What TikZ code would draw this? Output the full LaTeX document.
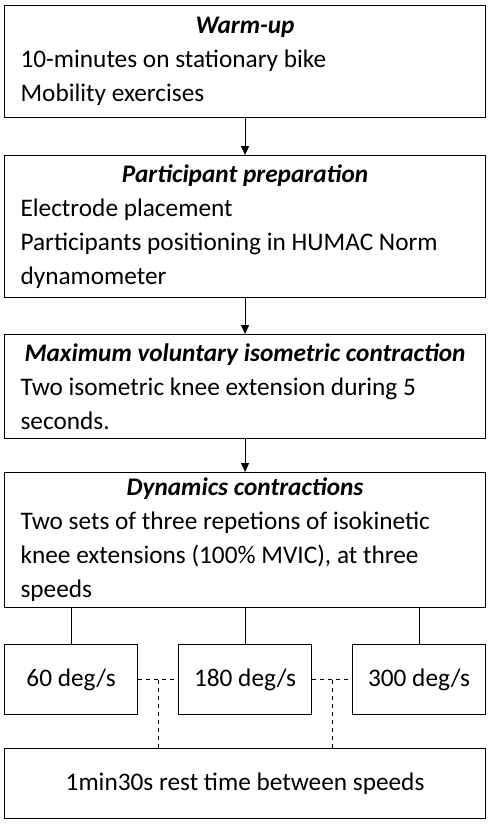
\documentclass[tikz,border=0pt]{standalone}
\usepackage{fontspec}
\setmainfont{Carlito}
\usetikzlibrary{arrows.meta,calc}
\newcommand\boxtitle[1]{{\bfseries\itshape #1}}
\begin{document}
\begin{tikzpicture}[x=1pt,y=-1pt,
  every node/.style={font=\fontsize{25.3}{34}\selectfont},
  box/.style={draw, line width=1.1pt, inner sep=0pt, anchor=north west, minimum width=481pt},
  small/.style={draw, line width=1.1pt, inner sep=0pt, anchor=north west, minimum width=133pt, minimum height=70pt},
  flow/.style={line width=1.1pt, -{Triangle[width=8pt,length=9pt]}},
  link/.style={line width=1.1pt},
  rest/.style={line width=0.9pt, dash pattern=on 4pt off 4pt}]
\useasboundingbox (0,0) rectangle (492,825);
\node[box, minimum height=112pt] (b1) at (4,5) {\parbox{449pt}{\centering\boxtitle{Warm-up}\par\raggedright 10-minutes on stationary bike\\Mobility exercises}};
\node[box, minimum height=142pt] (b2) at (4,155) {\parbox{449pt}{\centering\boxtitle{Participant preparation}\par\raggedright Electrode placement\\Participants positioning in HUMAC Norm\\dynamometer}};
\node[box, minimum height=104pt] (b3) at (4,334) {\parbox{449pt}{\centering\boxtitle{Maximum voluntary isometric contraction}\par\raggedright Two isometric knee extension during 5\\seconds.}};
\node[box, minimum height=135pt] (b4) at (4,472) {\parbox{449pt}{\centering\boxtitle{Dynamics contractions}\par\raggedright Two sets of three repetions of isokinetic\\knee extensions (100\% MVIC), at three\\speeds}};
\node[small] (s1) at (4,644) {60 deg/s};
\node[small] (s2) at (178,644) {180 deg/s};
\node[small] (s3) at (352,644) {300 deg/s};
\node[box, minimum height=70pt] (b5) at (4,748) {1min30s rest time between speeds};
\draw[flow] (b1.south) -- (b2.north);
\draw[flow] (b2.south) -- (b3.north);
\draw[flow] (b3.south) -- (b4.north);
\draw[link] (s1.north |- b4.south) -- (s1.north);
\draw[link] (s2.north |- b4.south) -- (s2.north);
\draw[link] (s3.north |- b4.south) -- (s3.north);
\coordinate (d1) at ($(s1.east)!0.5!(s2.west)$);
\coordinate (d2) at ($(s2.east)!0.5!(s3.west)$);
\draw[rest] (s1.east) -- (s2.west);
\draw[rest] (s2.east) -- (s3.west);
\draw[rest] (d1) -- (d1 |- b5.north);
\draw[rest] (d2) -- (d2 |- b5.north);
\end{tikzpicture}
\end{document}
